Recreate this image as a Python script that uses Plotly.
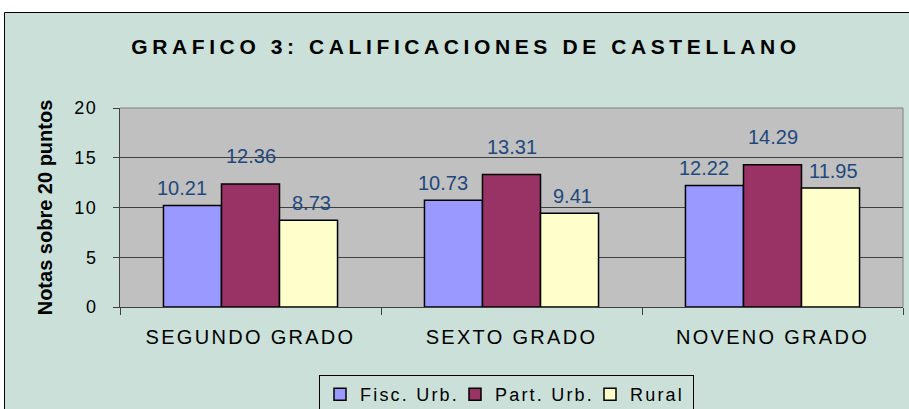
import plotly.graph_objects as go

# ---- data ----
categories = ["SEGUNDO GRADO", "SEXTO GRADO", "NOVENO GRADO"]
series_names = ["Fisc. Urb.", "Part. Urb.", "Rural"]
fisc_urb = [10.21, 10.73, 12.22]
part_urb = [12.36, 13.31, 14.29]
rural = [8.73, 9.41, 11.95]
y_ticks = [0, 5, 10, 15, 20]

# ---- geometry / style ----
W, H = 909, 409
L, R, T, B = 120, 903, 108, 307  # plot area in pixels


def px(x):
    return (x - L) / (R - L)


def py(y):
    return (B - y) / (B - T)


FONT = "Liberation Sans, Arial, Helvetica, sans-serif"
BG = "#CAE0D8"
PLOT_BG = "#C0C0C0"
colors = ["#9999FF", "#993366", "#FFFFCC"]
label_color = "#1F497D"
bar_px = (R - L) / 3 * (1 - 0.333) / 3
# per-series label offsets (style)
label_dx = [-bar_px - 10, 0, bar_px + 3]
label_dy = [4, 15, 4]
legend_widths = [90, 90, 58]

fig = go.Figure()
all_vals = [fisc_urb, part_urb, rural]
for name, vals, col, lw in zip(series_names, all_vals, colors, legend_widths):
    fig.add_trace(go.Bar(
        name=name, x=categories, y=vals,
        marker=dict(color=col, line=dict(color="black", width=1.5)),
        hoverinfo="skip", legendwidth=lw,
    ))

annotations = []
for s, vals in enumerate(all_vals):
    for c, v in zip(categories, vals):
        annotations.append(dict(
            x=c, y=v, xref="x", yref="y", text=f"{v:.2f}", showarrow=False,
            xanchor="center", yanchor="bottom", xshift=label_dx[s], yshift=label_dy[s],
            font=dict(family=FONT, size=20, color=label_color),
        ))

shapes = [
    dict(type="rect", xref="paper", yref="paper", x0=px(4.5), x1=px(930), y0=py(440), y1=py(12.5),
         fillcolor=BG, line=dict(color="black", width=1), layer="below"),
    dict(type="rect", xref="paper", yref="paper", x0=0, x1=1, y0=0, y1=1,
         fillcolor=PLOT_BG, line=dict(width=0), layer="below"),
    dict(type="line", xref="paper", yref="paper", x0=0, x1=1, y0=1, y1=1,
         line=dict(color="#808080", width=1), layer="above"),
    dict(type="line", xref="paper", yref="paper", x0=1, x1=1, y0=0, y1=1,
         line=dict(color="#808080", width=1), layer="above"),
]

fig.update_layout(
    width=W, height=H,
    margin=dict(l=L, r=W - R, t=T, b=H - B, pad=0, autoexpand=False),
    paper_bgcolor="white", plot_bgcolor=PLOT_BG,
    barmode="group", bargap=0.333, bargroupgap=0,
    font=dict(family=FONT, color="black", size=18),
    title=dict(text="GRAFICO 3: CALIFICACIONES DE CASTELLANO",
               xref="container", yref="container", x=466 / W, xanchor="center",
               y=1 - 47 / H, yanchor="middle",
               font=dict(family=FONT, size=21, weight="bold", color="black")),
    showlegend=True,
    legend=dict(orientation="h", x=px(319), xanchor="left", y=py(375), yanchor="top",
                bgcolor=BG, bordercolor="black", borderwidth=1,
                font=dict(family=FONT, size=18, color="black"),
                entrywidth=90, entrywidthmode="pixels", traceorder="normal"),
    xaxis=dict(type="category", showline=True, linecolor="#404040", linewidth=1,
               ticks="outside", tickson="boundaries", ticklen=7, tickcolor="#404040",
               tickfont=dict(family=FONT, size=20, color="black"), ticklabelstandoff=12,
               showgrid=False, fixedrange=True),
    yaxis=dict(range=[0, 20], tickvals=y_ticks, showline=True, linecolor="#404040", linewidth=1,
               ticks="outside", ticklen=6, tickcolor="#404040",
               tickfont=dict(family=FONT, size=18, color="black"), ticklabelstandoff=12,
               showgrid=True, gridcolor="#404040", gridwidth=1, zeroline=False, fixedrange=True,
               title=dict(text="Notas sobre 20 puntos", standoff=19,
                          font=dict(family=FONT, size=20, weight="bold", color="black"))),
    annotations=annotations,
    shapes=shapes,
)

css = ("html,body{margin:0;padding:0;}"
       ".gtitle{letter-spacing:4.6px}"
       ".xtick text{letter-spacing:2.3px}"
       ".ytick text{letter-spacing:1.5px}"
       ".legendtext{letter-spacing:2.2px}")
post = ("var s=document.createElement('style');s.textContent='" + css +
        "';document.head.appendChild(s);")

fig.write_html("out.html", post_script=post, config={"displayModeBar": False})
